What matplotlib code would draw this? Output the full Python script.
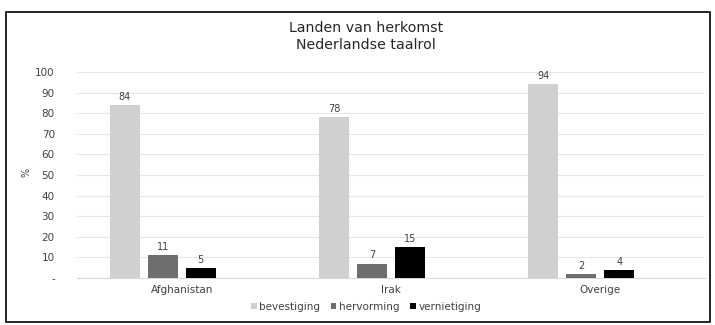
import matplotlib
matplotlib.use("Agg")
import matplotlib.pyplot as plt
from matplotlib.patches import Rectangle
import numpy as np

categories = ["Afghanistan", "Irak", "Overige"]
series_names = ["bevestiging", "hervorming", "vernietiging"]
bevestiging = [84, 78, 94]
hervorming = [11, 7, 2]
vernietiging = [5, 15, 4]
yticks = [0, 10, 20, 30, 40, 50, 60, 70, 80, 90, 100]
yticklabels = ["-", "10", "20", "30", "40", "50", "60", "70", "80", "90", "100"]

colors = ["#d0d0d0", "#6e6e6e", "#000000"]
txt = "#404040"

fig = plt.figure(figsize=(7.15, 3.25), dpi=100)
fig.patches.append(Rectangle((6/715, 3/325), 704/715, 310/325, transform=fig.transFigure,
                             fill=False, edgecolor="black", linewidth=1.2))

ax = fig.add_axes([77/715, 47/325, 628/715, 206/325])
x = np.arange(len(categories))
slot = 0.1816
bw = 0.143
data = [bevestiging, hervorming, vernietiging]
for k, (name, vals) in enumerate(zip(series_names, data)):
    pos = x + (k - 1.5) * slot
    bars = ax.bar(pos, vals, width=bw, color=colors[k], label=name, zorder=3)
    for b, v in zip(bars, vals):
        ax.text(b.get_x() + b.get_width()/2, v + 1.5, str(v), ha="center", va="bottom",
                fontsize=7, color=txt)

ax.set_xlim(-0.5, 2.5)
ax.set_ylim(0, 100)
ax.set_yticks(yticks)
ax.set_yticklabels(yticklabels)
ax.set_xticks(x)
ax.set_xticklabels(categories)
ax.tick_params(axis="both", length=0, labelsize=7.5, colors=txt)
ax.tick_params(axis="y", pad=16)
ax.tick_params(axis="x", pad=5)
ax.grid(axis="y", color="#e6e6e6", linewidth=0.8, zorder=0)
for s in ["top", "right", "left"]:
    ax.spines[s].set_visible(False)
ax.spines["bottom"].set_color("#d9d9d9")

fig.text(26/715, 1 - 172/325, "%", rotation=90, ha="center", va="center", fontsize=7, color=txt)
fig.text(366/715, 1 - 28/325, "Landen van herkomst", ha="center", va="center", fontsize=10.2, color="#262626")
fig.text(366/715, 1 - 45/325, "Nederlandse taalrol", ha="center", va="center", fontsize=10.2, color="#262626")

fig.legend(loc="center", bbox_to_anchor=(366/715, 1 - 307/325), ncol=3, frameon=False,
           fontsize=7.5, handlelength=0.55, handleheight=0.55, handletextpad=0.25,
           columnspacing=1.0, labelcolor=txt)

fig.savefig("out.png", dpi=100)
